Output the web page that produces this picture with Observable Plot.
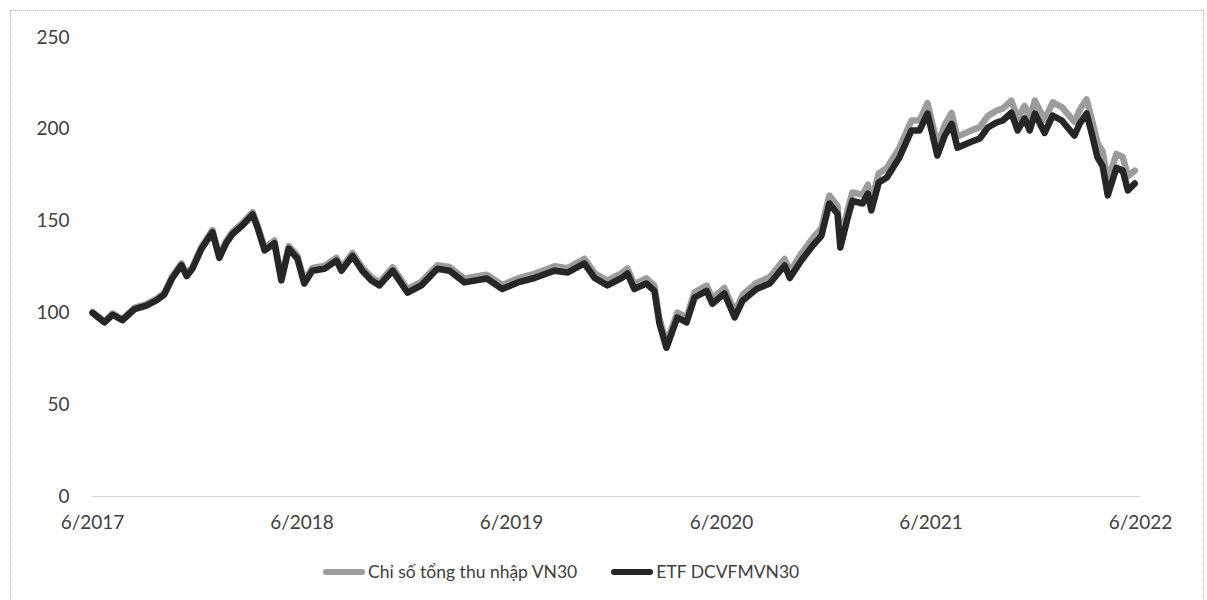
<!DOCTYPE html>
<html>
<head>
<meta charset="utf-8">
<script src="https://cdn.jsdelivr.net/npm/d3@7"></script>
<script src="https://cdn.jsdelivr.net/npm/@observablehq/plot@0.6"></script>
<style>
  html, body { margin: 0; padding: 0; background: #fff; }
  #wrap { position: relative; width: 1207px; height: 600px; overflow: hidden; font-family: Lato, "Open Sans", sans-serif; }
  #frame { position: absolute; left: 10px; top: 10px; width: 1194px; height: 620px; border: 1px dotted #b5b5b5; box-sizing: border-box; }
  #chart { position: absolute; left: 0; top: 0; }
  #legend { position: absolute; left: 323px; top: 561px; display: flex; gap: 34px; font-size: 17.5px; color: #404040; }
  .item { display: flex; align-items: center; }
  .sw { width: 42px; height: 6px; margin-right: 3px; border-radius: 3px; }
</style>
</head>
<body>
<div id="wrap">
  <div id="frame"></div>
  <div id="chart"></div>
  <div id="legend"></div>
</div>
<script>
const seriesNames = ["Chỉ số tổng thu nhập VN30", "ETF DCVFMVN30"];
const seriesColors = ["#9c9c9c", "#262626"];

const dates = ["2017-06-01","2017-06-22","2017-07-06","2017-07-23","2017-08-13","2017-09-03","2017-09-21","2017-10-04","2017-10-18","2017-11-03","2017-11-12","2017-11-22","2017-12-08","2017-12-27","2018-01-08","2018-01-20","2018-01-31","2018-02-17","2018-03-07","2018-03-16","2018-03-28","2018-04-14","2018-04-26","2018-05-09","2018-05-24","2018-06-05","2018-06-19","2018-07-10","2018-07-31","2018-08-09","2018-08-28","2018-09-14","2018-09-30","2018-10-14","2018-11-06","2018-12-02","2018-12-26","2019-01-23","2019-02-13","2019-03-11","2019-04-19","2019-05-16","2019-06-12","2019-07-11","2019-08-15","2019-09-07","2019-10-06","2019-10-24","2019-11-15","2019-12-10","2019-12-20","2020-01-01","2020-01-22","2020-02-05","2020-02-14","2020-02-26","2020-03-06","2020-03-16","2020-04-01","2020-04-15","2020-05-06","2020-05-16","2020-06-06","2020-06-24","2020-07-08","2020-08-01","2020-08-24","2020-09-19","2020-09-28","2020-10-18","2020-11-07","2020-11-22","2020-12-06","2020-12-20","2020-12-25","2021-01-07","2021-01-15","2021-02-02","2021-02-11","2021-02-17","2021-03-02","2021-03-16","2021-04-07","2021-04-28","2021-05-12","2021-05-26","2021-06-12","2021-06-25","2021-07-07","2021-07-17","2021-08-07","2021-08-25","2021-09-08","2021-09-23","2021-10-04","2021-10-19","2021-10-30","2021-11-11","2021-11-20","2021-11-29","2021-12-16","2021-12-30","2022-01-15","2022-01-25","2022-02-06","2022-02-15","2022-02-27","2022-03-08","2022-03-18","2022-03-27","2022-04-05","2022-04-20","2022-05-01","2022-05-10","2022-05-22"];

const vn30TR = [100.5,95.5,99.7,96.7,102.8,104.8,107.8,110.9,119.9,127,121,125,136,145.1,131.1,139.2,144.2,148.8,154.9,147.3,135.3,139.4,119.1,136.4,131,117.5,124.5,125.5,130.1,124.6,132.7,124.7,119.4,116.8,124.8,112.9,116.9,126,125,118.7,120.8,115.2,118.8,121.3,125.4,124.4,129.5,121.5,117.6,121.7,124.2,115.7,118.8,114.8,96.6,83.4,91.3,100.1,97.5,111.2,114.9,107.9,113.6,100.6,110,116.3,119.4,129.4,122.6,132.3,140.7,146.1,163.9,158.4,140,156.5,165.6,164.3,169.8,160.6,176,178.9,190,204.8,204.9,214.2,191.4,202.4,208.9,196,198.9,201.2,207.3,210.1,211.3,215.6,206.1,212.8,206.3,215.6,205.1,214.7,212.1,208.4,204.1,210.6,216.3,205.5,192.6,188,172.1,186.6,185,174.5,177.5];

const etf = [100,94.8,99,96,102,104,107,110,119,126,120,124,135,144,130,138,143,147.6,153.6,146,134,138,117.7,135,129.6,116,123,124,128.5,123,131,123,117.7,115,123,111,115,124,123,116.6,118.7,113,116.6,119,123,122,127,119,115,119,121.5,113,116,112,94,81,88.8,97.5,94.8,108.4,112,105,110.6,97.5,106.8,113,116,125.8,119,128.5,136.7,142,159.6,154,135.6,152,161,159.6,165,155.8,171,173.8,184.7,199.4,199.4,208.6,185.7,196.6,203,190,192.8,195,201,203.7,204.8,209,199.4,206,199.4,208.6,198,207.5,204.8,201,196.6,203,208.6,197.7,184.7,180,164,179,177.6,166.7,170.5];

const yTicks = [0, 50, 100, 150, 200, 250];
const xTickLabels = ["6/2017","6/2018","6/2019","6/2020","6/2021","6/2022"];

const parse = d3.utcParse("%Y-%m-%d");
const xTicks = xTickLabels.map(s => { const [m, y] = s.split("/"); return new Date(Date.UTC(+y, +m - 1, 1)); });

const data = [];
dates.forEach((d, i) => {
  data.push({date: parse(d), value: vn30TR[i], series: seriesNames[0]});
  data.push({date: parse(d), value: etf[i], series: seriesNames[1]});
});

const chart = Plot.plot({
  width: 1207,
  height: 540,
  marginLeft: 92,
  marginRight: 67,
  marginTop: 37,
  marginBottom: 44,
  style: {fontFamily: "Lato, 'Open Sans', sans-serif", fontSize: "19px", color: "#404040", background: "transparent"},
  x: {type: "utc", domain: [xTicks[0], xTicks[xTicks.length - 1]], ticks: xTicks, tickFormat: (d, i) => xTickLabels[i], tickSize: 0, tickPadding: 19, label: null},
  y: {domain: [0, 250], ticks: yTicks, tickSize: 0, tickPadding: 23, label: null},
  color: {domain: seriesNames, range: seriesColors},
  marks: [
    Plot.ruleY([0], {stroke: "#d4d4d4", strokeWidth: 1}),
    Plot.lineY(data, {x: "date", y: "value", z: "series", stroke: "series", strokeWidth: 6.5, strokeLinejoin: "round", strokeLinecap: "round"})
  ]
});
document.getElementById("chart").appendChild(chart);

const legend = document.getElementById("legend");
seriesNames.forEach((n, i) => {
  const it = document.createElement("div");
  it.className = "item";
  const sw = document.createElement("div");
  sw.className = "sw";
  sw.style.background = seriesColors[i];
  const tx = document.createElement("span");
  tx.textContent = n;
  it.appendChild(sw); it.appendChild(tx);
  legend.appendChild(it);
});
</script>
</body>
</html>
